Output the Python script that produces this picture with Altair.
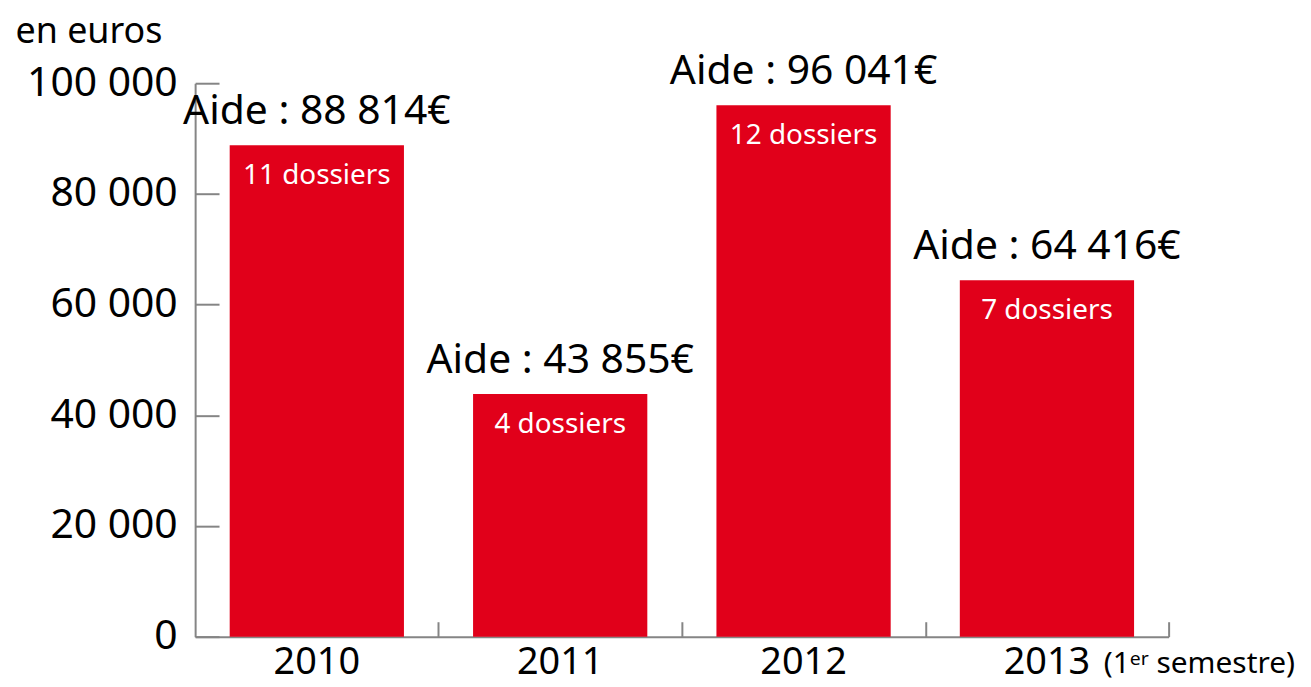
import altair as alt
import pandas as pd

years = ["2010", "2011", "2012", "2013"]
aides = [88814, 43855, 96041, 64416]
dossiers = [11, 4, 12, 7]
y_ticks = [0, 20000, 40000, 60000, 80000, 100000]
note_2013 = "(1ᵉʳ semestre)"

df = pd.DataFrame({
    "year": years,
    "aide": aides,
    "dossiers": dossiers,
    "aide_label": [f"Aide : {v:,}€".replace(",", " ") for v in aides],
    "dossier_label": [f"{d} dossiers" for d in dossiers],
})

RED = "#E1001A"
GRAY = "#858585"
FONT = "Noto Sans"
W, H = 978, 556
P_INNER = 0.284
STEP = W / len(years)

xscale = alt.Scale(paddingInner=P_INNER, paddingOuter=P_INNER / 2)
yscale = alt.Scale(domain=[0, 100000], nice=False)

base = alt.Chart(df)

bars = base.mark_bar(color=RED).encode(
    x=alt.X("year:N", scale=xscale, sort=years,
            axis=alt.Axis(orient="bottom", title=None, labelAngle=0, ticks=False, tickSize=0,
                          labelFontSize=38, labelFont=FONT, labelColor="black",
                          labelBaseline="alphabetic", labelPadding=37,
                          domainColor=GRAY, domainWidth=2)),
    y=alt.Y("aide:Q", scale=yscale,
            axis=alt.Axis(orient="left", values=y_ticks, ticks=False, tickSize=0, grid=False,
                          labelExpr="replace(format(datum.value, ','), ',', ' ')",
                          labelFontSize=41, labelFont=FONT, labelColor="black",
                          labelPadding=18, labelBaseline="middle",
                          domainColor=GRAY, domainWidth=2,
                          title="en euros", titleAngle=0, titleAlign="left",
                          titleBaseline="bottom", titleX=-181, titleY=-33,
                          titleFontSize=36, titleFont=FONT, titleFontWeight="normal",
                          titleColor="black")),
)

# inward-pointing ticks (axes placed on the opposite side, shifted back)
tick_layer = base.mark_bar(opacity=0).encode(
    x=alt.X("year:N", scale=xscale, sort=years,
            axis=alt.Axis(orient="top", offset=-H, labels=False, domain=False, title=None,
                          ticks=True, bandPosition=1, tickExtra=False,
                          tickOffset=P_INNER * STEP / 2,
                          tickSize=15, tickColor=GRAY, tickWidth=2)),
    y=alt.Y("aide:Q", scale=yscale,
            axis=alt.Axis(orient="right", offset=-W, labels=False, domain=False, title=None,
                          grid=False, values=y_ticks, ticks=True, tickSize=24,
                          tickColor=GRAY, tickWidth=2)),
)

aide_text = base.mark_text(fontSize=41, font=FONT, color="black",
                           baseline="alphabetic", dy=-21).encode(
    x=alt.X("year:N", scale=xscale, sort=years, axis=None),
    y=alt.Y("aide:Q", scale=yscale, axis=None),
    text="aide_label:N",
)

dossier_text = base.mark_text(fontSize=28, font=FONT, color="white",
                              baseline="alphabetic", dy=39).encode(
    x=alt.X("year:N", scale=xscale, sort=years, axis=None),
    y=alt.Y("aide:Q", scale=yscale, axis=None),
    text="dossier_label:N",
)

note = alt.Chart(pd.DataFrame({"year": [years[-1]], "note": [note_2013]})).mark_text(
    fontSize=30, font=FONT, color="black", align="left", baseline="alphabetic", dx=57, dy=37
).encode(
    x=alt.X("year:N", scale=xscale, sort=years, axis=None),
    y=alt.datum(0, scale=yscale, axis=None),
    text="note:N",
)

chart = alt.layer(bars, tick_layer, aide_text, dossier_text, note).resolve_axis(
    x="independent", y="independent"
).properties(
    width=W, height=H,
    autosize=alt.AutoSizeParams(type="none"),
    padding={"left": 188, "top": 74, "right": 135, "bottom": 48},
).configure_view(stroke=None)

chart.save("out.html", embed_options={"renderer": "svg", "actions": False})
